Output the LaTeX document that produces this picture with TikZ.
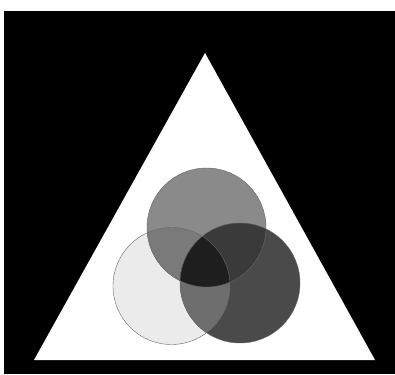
\documentclass[tikz,border=0pt]{standalone}
\definecolor{discl}{HTML}{EBEBEB}
\definecolor{disct}{HTML}{8A8A8A}
\definecolor{discr}{HTML}{4A4A4A}
\definecolor{lensTL}{HTML}{7A7A7A}
\definecolor{lensLR}{HTML}{6E6E6E}
\definecolor{lensTR}{HTML}{3A3A3A}
\definecolor{lensall}{HTML}{1E1E1E}
\begin{document}
\begin{tikzpicture}[x=1pt,y=-1pt,
    rim/.style={draw=black!60,thin}]
    % frame and black ground
    \useasboundingbox (0,0) rectangle (395,374);
    \fill[white] (0,0) rectangle (395,374);
    \fill[black] (4,11) rectangle (395,374);
    % the white triangle
    \coordinate (apex) at (205,53);
    \coordinate (right) at (375,360);
    \coordinate (left) at (34,360);
    \fill[white] (apex) -- (right) -- (left) -- cycle;
    % three discs
    \coordinate (cl) at (171.5,286);
    \coordinate (ct) at (206.5,227.5);
    \coordinate (cr) at (240,283);
    \fill[discl] (cl) circle (58.5pt);
    \fill[disct] (ct) circle (59.5pt);
    \fill[discr] (cr) circle (60pt);
    % the overlaps
    \begin{scope}
        \clip (ct) circle (59.5pt);
        \fill[lensTL] (cl) circle (58.5pt);
        \fill[lensTR] (cr) circle (60pt);
        \clip (cl) circle (58.5pt);
        \fill[lensall] (cr) circle (60pt);
    \end{scope}
    \begin{scope}
        \clip (cl) circle (58.5pt);
        \clip (cr) circle (60pt);
        \fill[lensLR] (cr) circle (60pt);
        \fill[lensall] (ct) circle (59.5pt);
    \end{scope}
    % outlines
    \draw[rim] (cl) circle (58.5pt);
    \draw[rim] (ct) circle (59.5pt);
    \draw[rim] (cr) circle (60pt);
\end{tikzpicture}
\end{document}
